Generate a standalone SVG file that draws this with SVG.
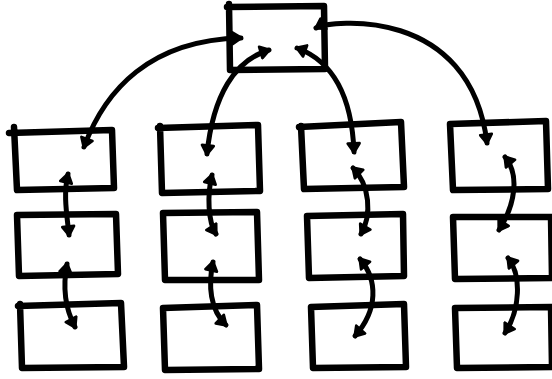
<svg xmlns="http://www.w3.org/2000/svg" width="552" height="379" viewBox="0 0 552 379">
<defs>
<marker id="ah" viewBox="0 0 14 14" refX="11" refY="7" markerWidth="15" markerHeight="15" markerUnits="userSpaceOnUse" orient="auto-start-reverse">
<path d="M3,1.5 L11.5,7 L3,12.5 Z" fill="#000" stroke="#000" stroke-width="2.5" stroke-linejoin="round"/>
</marker>
<style>
.box{fill:none;stroke:#000;stroke-width:6.5;stroke-linecap:round;stroke-linejoin:round}
.c{fill:none;stroke:#000;stroke-width:5;stroke-linecap:round;marker-end:url(#ah)}
.b{marker-start:url(#ah)}
</style>
</defs>
<rect width="552" height="379" fill="#fff"/>
<g id="root"><path class="box" d="M229,4 L230,70 L325,69 L324,6 L227,7"/></g>
<g id="c1r1"><path class="box" d="M14,127 L17,190 L114,188 L112,130 L9,133"/></g>
<g id="c1r2"><path class="box" d="M17,215 L19,276 L118,274 L116,214 Z"/></g>
<g id="c1r3"><path class="box" d="M20,304 L22,368 L124,367 L121,303 L18,306"/></g>
<g id="c2r1"><path class="box" d="M160,126 L162,193 L260,191 L258,125 L158,128"/></g>
<g id="c2r2"><path class="box" d="M163,213 L165,280 L259,280 L257,212 Z"/></g>
<g id="c2r3"><path class="box" d="M163,308 L165,370 L259,369 L257,305 Z"/></g>
<g id="c3r1"><path class="box" d="M301,126 L304,189 L404,187 L401,122 L299,127"/></g>
<g id="c3r2"><path class="box" d="M307,216 L309,278 L404,276 L403,214 Z"/></g>
<g id="c3r3"><path class="box" d="M311,307 L313,368 L406,367 L404,304 Z"/></g>
<g id="c4r1"><path class="box" d="M450,124 L453,190 L548,189 L546,121 Z"/></g>
<g id="c4r2"><path class="box" d="M453,217 L455,279 L552,278 L551,217 Z"/></g>
<g id="c4r3"><path class="box" d="M455,308 L457,368 L552,367 L551,307 Z"/></g>
<g id="connectors">
<path class="c b" d="M241,38 C150,40 105,90 84,147"/>
<path class="c b" d="M269,50 C235,60 213,95 207,154"/>
<path class="c b" d="M297,48 C335,62 352,100 354,152"/>
<path class="c b" d="M316,28 C330,20 470,5 487,143"/>
<path class="c b" d="M68,174 C63,195 67,215 69,235"/>
<path class="c b" d="M67,264 C62,290 66,310 75,327"/>
<path class="c b" d="M212,175 C207,195 208,222 216,234"/>
<path class="c b" d="M213,262 C208,285 210,310 226,325"/>
<path class="c b" d="M353,168 C370,185 372,215 361,234"/>
<path class="c b" d="M360,259 C378,280 378,310 355,336"/>
<path class="c b" d="M505,157 C520,175 515,205 499,230"/>
<path class="c b" d="M508,258 C522,275 520,310 505,333"/>
</g>
</svg>
